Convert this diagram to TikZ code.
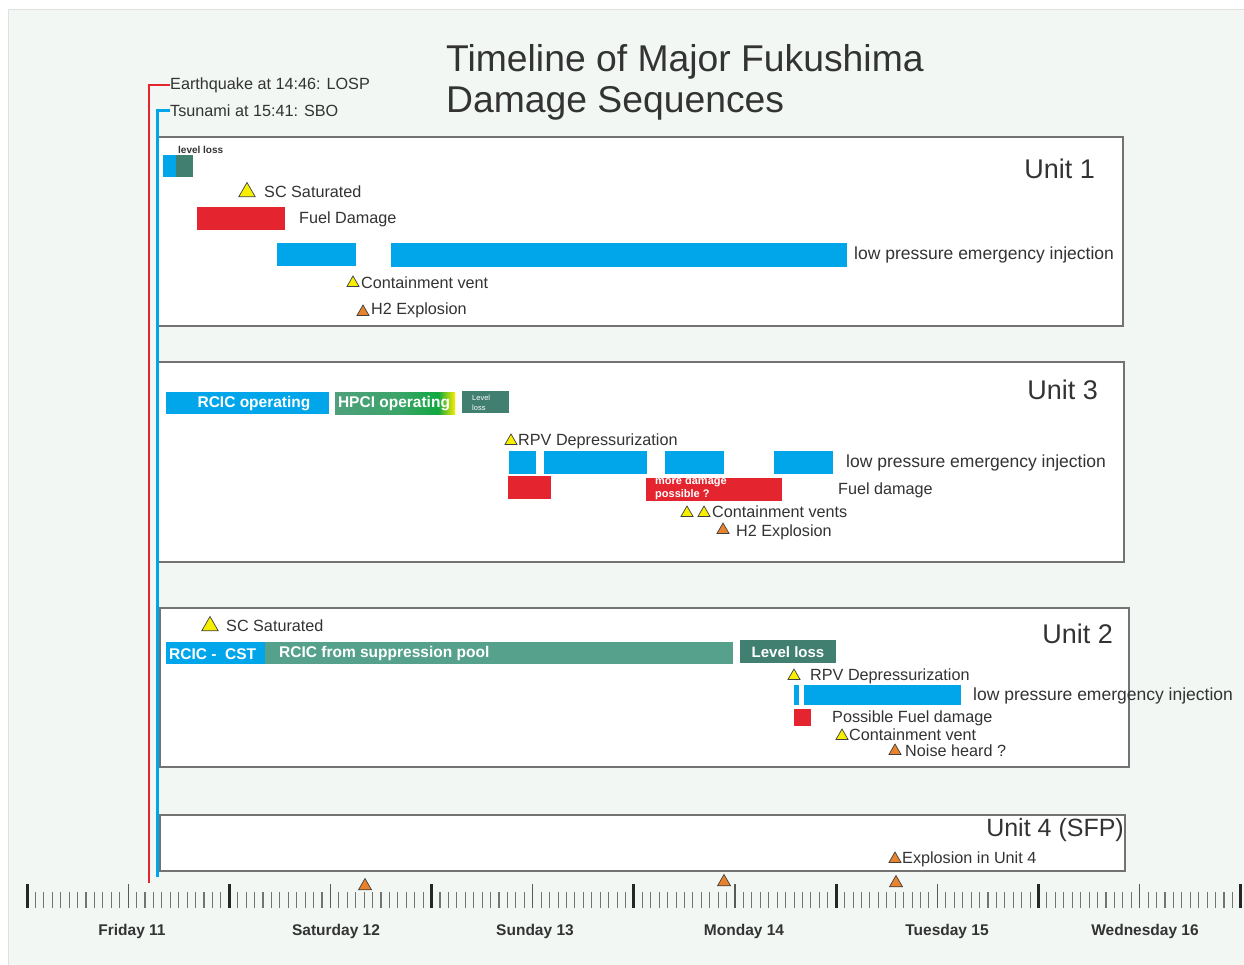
\documentclass[tikz,border=0pt]{standalone}
\usepackage{fontspec}
\setmainfont{Liberation Sans}
\usetikzlibrary{shapes.geometric}
\definecolor{bg}{HTML}{F2F7F4}
\definecolor{cblue}{HTML}{00A6E9}
\definecolor{cred}{HTML}{E42530}
\definecolor{cteal}{HTML}{417F70}
\definecolor{csp}{HTML}{56A18B}
\definecolor{cyel}{HTML}{F7EE00}
\definecolor{corange}{HTML}{E8822C}
\definecolor{ctxt}{HTML}{333333}
\definecolor{hA}{HTML}{4FA07C}
\definecolor{hB}{HTML}{3AA468}
\definecolor{hC}{HTML}{10A840}
\pgfdeclarehorizontalshading{hpci}{100bp}{color(0bp)=(hA); color(25bp)=(hA); color(52bp)=(hB); color(68bp)=(hC); color(75bp)=(cyel); color(100bp)=(cyel)}
\begin{document}
\begin{tikzpicture}[x=1pt,y=-1pt,
  bar/.style={anchor=north west, inner sep=0pt, outer sep=0pt},
  unitbox/.style={bar, draw=black!55, fill=white, line width=1.3pt},
  lbl/.style={anchor=west, inner sep=0pt, text=ctxt, font=\fontsize{16.2}{18}\selectfont},
  biglbl/.style={anchor=west, inner sep=0pt, text=ctxt, font=\fontsize{17.5}{20}\selectfont},
  unitlbl/.style={anchor=east, inner sep=0pt, text=ctxt, font=\fontsize{27}{30}\selectfont},
  wtxt/.style={inner sep=0pt, text=white, font=\bfseries\fontsize{15.5}{18}\selectfont},
  daylbl/.style={inner sep=0pt, text=ctxt, font=\bfseries\fontsize{15.5}{18}\selectfont},
  ytri/.style={regular polygon, regular polygon sides=3, draw=black!75, fill=cyel, inner sep=0pt, minimum size=19pt, line width=0.7pt},
  otri/.style={regular polygon, regular polygon sides=3, draw=black!75, fill=corange, inner sep=0pt, minimum size=15pt, line width=0.7pt},
  minortick/.style={draw=black!55, line width=1.1pt},
  midtick/.style={draw=black!65, line width=1.2pt},
  majortick/.style={draw=black!85, line width=3pt},
]
\useasboundingbox (0,0) rectangle (1244,965);
\fill[white] (0,0) rectangle (1244,965);
\draw[fill=bg, draw=black!12, line width=1pt] (8,10) rectangle (1245,966);

% title
\node[anchor=west, inner sep=0pt, text=ctxt, font=\fontsize{37.3}{40}\selectfont] (title1) at (446,62) {Timeline of Major Fukushima};
\node[anchor=west, inner sep=0pt, text=ctxt, font=\fontsize{37.3}{40}\selectfont] (title2) at (446,103) {Damage Sequences};

% unit boxes
\node[unitbox] (box1) at (158,137) [minimum width=965pt, minimum height=189pt] {};
\node[unitbox] (box3) at (158,362) [minimum width=966pt, minimum height=200pt] {};
\node[unitbox] (box2) at (160,608) [minimum width=969pt, minimum height=159pt] {};
\node[unitbox] (box4) at (160,815) [minimum width=965pt, minimum height=56pt] {};

\node[unitlbl] (u1) at (1095,169) {Unit 1};
\node[unitlbl] (u3) at (1098,390) {Unit 3};
\node[unitlbl] (u2) at (1113,634) {Unit 2};
\node[unitlbl, font=\fontsize{25}{28}\selectfont] (u4) at (1124,830) {Unit 4 (SFP)};

% ---- Unit 1
\node[anchor=west, inner sep=0pt, text=ctxt, font=\bfseries\fontsize{10}{12}\selectfont] (u1ll) at (178,150) {level loss};
\node[bar, fill=cblue, minimum width=13pt, minimum height=22pt] (u1lb) at (163,155) {};
\node[bar, fill=cteal, minimum width=17pt, minimum height=22pt] (u1lt) at (176,155) {};
\node[ytri] (u1sct) at (247,192) {};
\node[lbl] (u1sc) at (264,192) {SC Saturated};
\node[bar, fill=cred, minimum width=88pt, minimum height=23pt] (u1fd) at (197,207) {};
\node[lbl] (u1fdl) at (299,219) {Fuel Damage};
\node[bar, fill=cblue, minimum width=79pt, minimum height=23pt] (u1i1) at (277,243) {};
\node[bar, fill=cblue, minimum width=456pt, minimum height=24pt] (u1i2) at (391,243) {};
\node[biglbl] (u1inj) at (854,255) {low pressure emergency injection};
\node[ytri, minimum size=14pt] (u1cvt) at (353,283) {};
\node[lbl] (u1cv) at (361,283) {Containment vent};
\node[otri, minimum size=14pt] (u1ht) at (363,312) {};
\node[lbl] (u1h) at (371,310) {H2 Explosion};

% ---- Unit 3
\node[bar, fill=cblue, minimum width=163pt, minimum height=22pt] (u3rc) at (166,392) {};
\node[wtxt] (u3rct) at (254,404) {RCIC operating};
\node[bar, shading=hpci, minimum width=120pt, minimum height=22pt] (u3hp) at (335,392) {};
\node[wtxt] (u3hpt) at (394,404) {HPCI operating};
\node[bar, fill=cteal, minimum width=47pt, minimum height=22pt] (u3ll) at (462,391) {};
\node[anchor=west, inner sep=0pt, text=white, align=left, font=\fontsize{7.5}{9.5}\selectfont] (u3llt) at (472,403) {Level\\loss};
\node[ytri, minimum size=14pt] (u3rpvt) at (511,441) {};
\node[lbl] (u3rpv) at (518,441) {RPV Depressurization};
\node[bar, fill=cblue, minimum width=27pt, minimum height=23pt] (u3i1) at (509,451) {};
\node[bar, fill=cblue, minimum width=103pt, minimum height=23pt] (u3i2) at (544,451) {};
\node[bar, fill=cblue, minimum width=59pt, minimum height=23pt] (u3i3) at (665,451) {};
\node[bar, fill=cblue, minimum width=59pt, minimum height=23pt] (u3i4) at (774,451) {};
\node[biglbl] (u3inj) at (846,463) {low pressure emergency injection};
\node[bar, fill=cred, minimum width=43pt, minimum height=23pt] (u3fd1) at (508,476) {};
\node[bar, fill=cred, minimum width=136pt, minimum height=23pt] (u3fd2) at (646,478) {};
\node[anchor=west, inner sep=0pt, text=white, align=left, font=\bfseries\fontsize{11}{13}\selectfont] (u3md) at (655,488) {more damage\\possible ?};
\node[lbl] (u3fdl) at (838,490) {Fuel damage};
\node[ytri, minimum size=14pt] (u3cvt1) at (687,513) {};
\node[ytri, minimum size=14pt] (u3cvt2) at (704,513) {};
\node[lbl] (u3cv) at (712,512) {Containment vents};
\node[otri, minimum size=14pt] (u3ht) at (723,530) {};
\node[lbl] (u3h) at (736,532) {H2 Explosion};

% ---- Unit 2
\node[ytri] (u2sct) at (210,626) {};
\node[lbl] (u2sc) at (226,626) {SC Saturated};
\node[bar, fill=cblue, minimum width=99pt, minimum height=22pt] (u2cst) at (166,642) {};
\node[anchor=west, wtxt] (u2cstt) at (169,654) {RCIC -\ \ CST};
\node[bar, fill=csp, minimum width=468pt, minimum height=22pt] (u2sp) at (265,642) {};
\node[anchor=west, wtxt] (u2spt) at (279,653) {RCIC from suppression pool};
\node[bar, fill=cteal, minimum width=96pt, minimum height=23pt] (u2ll) at (740,640) {};
\node[wtxt, font=\bfseries\fontsize{15}{18}\selectfont] (u2llt) at (788,652) {Level loss};
\node[ytri, minimum size=14pt] (u2rpvt) at (794,676) {};
\node[lbl] (u2rpv) at (810,676) {RPV Depressurization};
\node[bar, fill=cblue, minimum width=5pt, minimum height=20pt] (u2i1) at (794,685) {};
\node[bar, fill=cblue, minimum width=157pt, minimum height=20pt] (u2i2) at (804,685) {};
\node[biglbl] (u2inj) at (973,696) {low pressure emergency injection};
\node[bar, fill=cred, minimum width=17pt, minimum height=17pt] (u2fd) at (794,709) {};
\node[lbl] (u2fdl) at (832,718) {Possible Fuel damage};
\node[ytri, minimum size=14pt] (u2cvt) at (842,736) {};
\node[lbl] (u2cv) at (849,735) {Containment vent};
\node[otri, minimum size=14pt] (u2nt) at (895,751) {};
\node[lbl] (u2n) at (905,751) {Noise heard ?};

% ---- Unit 4
\node[otri, minimum size=14pt] (u4et) at (895,859) {};
\node[lbl] (u4e) at (902,859) {Explosion in Unit 4};

% ---- time axis
\foreach \d in {0,...,5}{
  \foreach \h in {1,...,23}{
    \pgfmathsetmacro\xx{27+202.3*\d+8.43*\h}
    \ifnum\h=12
      \draw[midtick] (\xx,884) -- (\xx,908);
    \else
      \draw[minortick] (\xx,892) -- (\xx,908);
    \fi
  }
}
\foreach \d in {0,...,6}{
  \draw[majortick] ({27+202.3*\d},884) -- ({27+202.3*\d},908);
}
\node[otri] (ax1) at (365,886) {};
\node[otri] (ax2) at (724,882) {};
\node[otri] (ax3) at (896,883) {};

\node[daylbl] (fri) at (132,931) {Friday 11};
\node[daylbl] (sat) at (336,931) {Saturday 12};
\node[daylbl] (sun) at (535,931) {Sunday 13};
\node[daylbl] (mon) at (744,931) {Monday 14};
\node[daylbl] (tue) at (947,931) {Tuesday 15};
\node[daylbl] (wed) at (1145,931) {Wednesday 16};

% ---- earthquake / tsunami markers
\node[lbl] (eq) at (170,85) {Earthquake at 14:46: LOSP};
\node[lbl] (ts) at (170,111) {Tsunami at 15:41: SBO};
\coordinate (eqbot) at (149,883);
\coordinate (tsbot) at (157,877);
\draw[cred, line width=2.5pt] (eq.west) -| (eqbot);
\draw[cblue, line width=3pt] (ts.west) -| (tsbot);
\end{tikzpicture}
\end{document}
